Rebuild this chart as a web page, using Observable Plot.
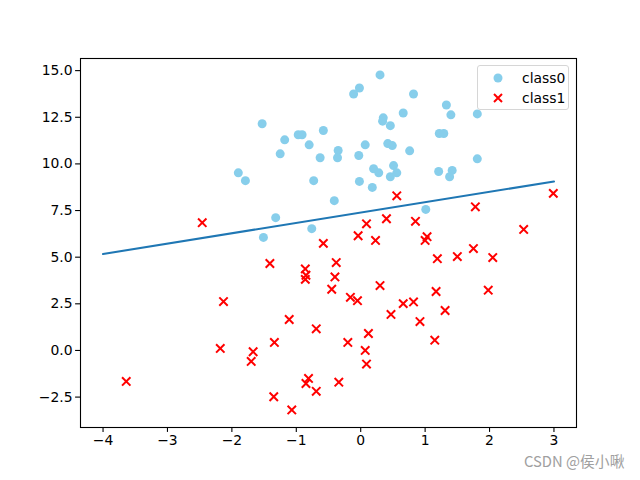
<!DOCTYPE html>
<html>
<head>
<meta charset="utf-8">
<script src="https://cdn.jsdelivr.net/npm/d3@7"></script>
<script src="https://cdn.jsdelivr.net/npm/@observablehq/plot@0.6"></script>
<style>
  body { margin: 0; background: #fff; }
  #wrap { position: relative; width: 640px; height: 480px; font-family: "DejaVu Sans", sans-serif; }
  #legend { position: absolute; left: 477px; top: 65px; width: 92px; height: 45px; box-sizing: border-box;
    border: 1px solid #d6d6d6; border-radius: 3px; background: rgba(255,255,255,0.8); font-size: 13.9px; color: #000; }
  .row { position: absolute; left: 0; height: 20px; line-height: 20px; }
  .row span { position: absolute; left: 44px; white-space: nowrap; }
  .row svg { position: absolute; left: 13px; top: 3px; }
  #wm { position: absolute; left: 524px; top: 450px; font-family: "Noto Sans CJK SC", "DejaVu Sans", sans-serif; font-size: 14.8px; color: #a0a0a0; white-space: nowrap; }
</style>
</head>
<body>
<div id="wrap">
  <div id="chart"></div>
  <div id="legend">
    <div class="row" style="top:2px"><svg width="14" height="14"><circle cx="7" cy="7" r="4.5" fill="#87CEEB"/></svg><span>class0</span></div>
    <div class="row" style="top:22px"><svg width="14" height="14"><path d="M3,3L11,11M11,3L3,11" stroke="red" stroke-width="2"/></svg><span>class1</span></div>
  </div>
  <div id="wm">CSDN @侯小啾</div>
</div>
<script>
const class0X = [-1.53,-1.18,-0.97,-0.91,-0.58,-0.80,-1.25,-0.63,-0.35,-0.36,-1.90,-1.79,-0.73,-0.41,-1.32,-0.76,-1.51,
  0.30,-0.02,-0.11,0.82,1.33,0.66,1.40,1.81,0.35,0.34,0.46,1.22,1.29,0.07,-0.03,0.42,0.49,0.76,1.81,
  0.20,0.28,0.51,0.56,0.46,1.21,1.42,1.38,-0.02,0.18,1.01];
const class0Y = [12.15,11.29,11.56,11.56,11.79,11.02,10.54,10.33,10.72,10.33,9.52,9.10,9.10,8.03,7.12,6.53,6.06,
  14.77,14.07,13.75,13.75,13.16,12.73,12.63,12.68,12.47,12.29,12.05,11.63,11.63,11.02,10.45,11.09,10.98,10.70,10.27,
  9.74,9.52,9.91,9.52,9.31,9.59,9.65,9.31,9.06,8.74,7.56];
const class1X = [-2.46,0.56,2.99,1.78,0.09,0.40,0.85,-0.04,0.23,1.03,1.00,2.53,1.19,1.50,1.75,2.05,-0.38,-0.40,-0.45,
  0.30,1.17,1.98,-0.16,-0.05,0.66,0.82,0.47,1.31,0.92,0.12,-0.20,1.15,0.07,0.09,-0.34,-0.58,-1.41,-0.86,-0.85,-0.86,
  -2.13,-1.11,-0.69,-1.34,-2.18,-1.67,-1.70,-3.64,-0.81,-0.85,-0.69,-1.35,-1.07];
const class1Y = [6.85,8.29,8.42,7.70,6.79,7.06,6.92,6.15,5.90,6.10,5.90,6.49,4.92,5.03,5.46,4.98,4.71,3.94,3.28,
  3.48,3.16,3.23,2.85,2.67,2.51,2.60,1.93,2.14,1.55,0.91,0.43,0.55,0.00,-0.73,-1.70,5.74,4.66,4.37,4.03,3.81,
  2.62,1.66,1.16,0.43,0.11,-0.07,-0.59,-1.66,-1.50,-1.77,-2.19,-2.48,-3.19];
const lineX = [-4, 3];
const lineY = [5.17, 9.06];
const xTicks = [-4, -3, -2, -1, 0, 1, 2, 3];
const yTicks = [-2.5, 0, 2.5, 5, 7.5, 10, 12.5, 15];

const pts0 = class0X.map((x, i) => ({x, y: class0Y[i]}));
const pts1 = class1X.map((x, i) => ({x, y: class1Y[i]}));
const line = lineX.map((x, i) => ({x, y: lineY[i]}));

const chart = Plot.plot({
  width: 640, height: 480,
  marginLeft: 80, marginRight: 64, marginTop: 58, marginBottom: 53,
  style: {fontFamily: "DejaVu Sans, sans-serif", fontSize: "13.9px", color: "#000", background: "#fff"},
  x: {domain: [-4.35, 3.35]},
  y: {domain: [-4.13, 15.65]},
  marks: [
    Plot.axisX({ticks: xTicks, tickSize: 4.9, tickPadding: 3, tickFormat: d3.format("d"), label: null, fontSize: 13.9, strokeWidth: 1.1}),
    Plot.axisY({ticks: yTicks, tickSize: 4.9, tickPadding: 3, tickFormat: d3.format(".1f"), label: null, fontSize: 13.9, strokeWidth: 1.1}),
    Plot.line(line, {x: "x", y: "y", stroke: "#1f77b4", strokeWidth: 2.1}),
    Plot.dot(pts0, {x: "x", y: "y", r: 4.5, fill: "#87CEEB", stroke: null}),
    Plot.dot(pts1, {x: "x", y: "y", symbol: "times", r: 3.9, stroke: "red", strokeWidth: 2}),
    Plot.frame({stroke: "#000", strokeWidth: 1.1})
  ]
});
document.getElementById("chart").appendChild(chart);
</script>
</body>
</html>
